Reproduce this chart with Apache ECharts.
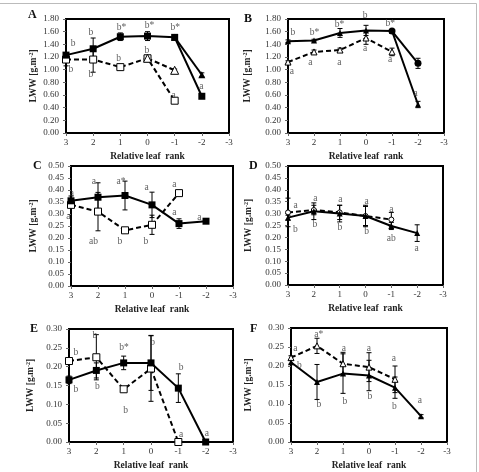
<!DOCTYPE html>
<html style="height: 100%">
<head>
<meta charset="utf-8">
<script src="https://cdn.jsdelivr.net/npm/echarts@6/dist/echarts.min.js"></script>
</head>
<body style="height: 100%; margin: 0; background: #fff">
<div id="container" style="width: 479px; height: 472px;"></div>
<script type="text/javascript">
// leaf ranks (x positions of the points)
var ranks = [3, 2, 1, 0, -1, -2];

// A
var aSolidSq = [1.23, 1.33, 1.52, 1.53, 1.51, 0.58];
var aSolidSqErr = [0.03, 0.17, 0.06, 0.07, 0.02, 0.02];
var aSolidTri = [null, null, null, null, 1.51, 0.92];
var aSolidTriErr = [0, 0, 0, 0, 0.02, 0.03];
var aDashSq = [1.16, 1.16, 1.04, 1.18, 0.51];
var aDashSqErr = [0.1, 0.2, 0.02, 0.04, 0.03];
var aDashTri = [null, null, null, 1.18, 0.99];
var aDashTriErr = [0, 0, 0, 0.02, 0.02];
var aNotes = [[2.74, 1.415, 'b'], [2.08, 1.59, 'b'], [0.96, 1.67, 'b*'], [-0.07, 1.69, 'b*'], [-1.02, 1.66, 'b*'],
  [2.82, 1.0, 'b'], [2.08, 0.93, 'b'], [1.06, 1.17, 'b'], [0.02, 1.30, 'b'], [-0.96, 0.60, 'a'], [-1.98, 0.73, 'a']];

// B
var bSolidTri = [1.45, 1.46, 1.58, 1.62, 1.61, 0.45];
var bSolidTriErr = [0.02, 0.02, 0.07, 0.08, 0.02, 0.05];
var bSolidCirc = [null, null, null, null, 1.61, 1.10];
var bSolidCircErr = [0, 0, 0, 0, 0.02, 0.08];
var bDashTri = [1.12, 1.28, 1.31, 1.50, 1.28];
var bDashTriErr = [0.02, 0.03, 0.03, 0.10, 0.06];
var bNotes = [[2.81, 1.59, 'b'], [1.98, 1.59, 'b*'], [1.02, 1.72, 'b*'], [0.03, 1.85, 'b'], [-0.93, 1.73, 'b*'],
  [2.85, 0.97, 'a'], [2.14, 1.12, 'a'], [1.02, 1.12, 'a'], [0.03, 1.34, 'a'], [-0.93, 1.16, 'a'], [-1.91, 0.62, 'a']];

// C
var cSolidSq = [0.355, 0.37, 0.377, 0.338, 0.26, 0.27];
var cSolidSqErr = [0.02, 0.06, 0.06, 0.053, 0.02, 0.005];
var cDashSq = [0.338, 0.31, 0.232, 0.255, 0.387];
var cDashSqErr = [0.01, 0.08, 0.005, 0.04, 0.01];
var cNotes = [[2.97, 0.386, 'a'], [3.1, 0.29, 'a'], [2.15, 0.4375, 'a'], [1.15, 0.4375, 'a*'], [0.2, 0.41, 'a'],
  [-0.83, 0.424, 'a'], [-0.83, 0.308, 'a'], [-1.75, 0.285, 'a'], [2.17, 0.1875, 'ab'], [1.19, 0.1875, 'b'], [0.23, 0.1875, 'b']];

// D
var dSolidTri = [0.283, 0.31, 0.30, 0.29, 0.248, 0.218];
var dSolidTriErr = [0.01, 0.035, 0.035, 0.04, 0.015, 0.035];
var dDashCirc = [0.305, 0.315, 0.305, 0.29, 0.275];
var dDashCircErr = [0.06, 0.02, 0.03, 0.045, 0.03];
var dNotes = [[2.71, 0.334, 'a'], [1.94, 0.364, 'a'], [0.97, 0.36, 'a'], [-0.04, 0.35, 'a'], [-1.0, 0.318, 'a'],
  [2.71, 0.235, 'b'], [1.96, 0.256, 'b'], [0.99, 0.242, 'b'], [-0.04, 0.223, 'b'], [-1.0, 0.195, 'ab'], [-1.98, 0.153, 'a']];

// E
var eSolidSq = [0.165, 0.19, 0.21, 0.21, 0.143, 0];
var eSolidSqErr = [0.01, 0.02, 0.018, 0.073, 0.038, 0];
var eDashSq = [0.215, 0.225, 0.14, 0.195, 0];
var eDashSqErr = [0.005, 0.06, 0.005, 0.087, 0];
var eNotes = [[2.75, 0.238, 'b'], [2.05, 0.282, 'b'], [0.99, 0.252, 'b*'], [-0.06, 0.264, 'b'], [-1.1, 0.199, 'b'],
  [2.75, 0.139, 'b'], [1.96, 0.147, 'b'], [0.93, 0.084, 'b'], [-1.1, 0.021, 'a'], [-2.04, 0.023, 'a']];

// F
var fSolidTri = [0.21, 0.158, 0.18, 0.175, 0.143, 0.068];
var fSolidTriErr = [0.005, 0.046, 0.052, 0.04, 0.028, 0.004];
var fDashTri = [0.222, 0.253, 0.206, 0.197, 0.165];
var fDashTriErr = [0.005, 0.02, 0.03, 0.038, 0.035];
var fNotes = [[2.83, 0.247, 'a'], [1.93, 0.284, 'a*'], [0.97, 0.247, 'a'], [0.01, 0.247, 'a'], [-0.96, 0.22, 'a'],
  [2.68, 0.201, 'b'], [1.93, 0.1, 'b'], [0.93, 0.106, 'b'], [-0.03, 0.119, 'b'], [-0.98, 0.093, 'b'], [-1.96, 0.11, 'a']];

var serif = '"Liberation Serif", "DejaVu Serif", serif';

function pts(vals) {
  var out = [];
  for (var i = 0; i < vals.length; i++) {
    if (vals[i] !== null) out.push([ranks[i], vals[i]]);
  }
  return out;
}
function errPts(vals, errs) {
  var out = [];
  for (var i = 0; i < vals.length; i++) {
    if (vals[i] !== null && errs[i] > 0) out.push([ranks[i], vals[i], errs[i]]);
  }
  return out;
}
function errItem(params, api) {
  var x = api.value(0), y = api.value(1), e = api.value(2);
  var top = api.coord([x, y + e]), bot = api.coord([x, y - e]);
  var w = 2.5, st = { stroke: '#000', lineWidth: 1 };
  return { type: 'group', children: [
    { type: 'line', shape: { x1: top[0], y1: top[1], x2: bot[0], y2: bot[1] }, style: st },
    { type: 'line', shape: { x1: top[0] - w, y1: top[1], x2: top[0] + w, y2: top[1] }, style: st },
    { type: 'line', shape: { x1: bot[0] - w, y1: bot[1], x2: bot[0] + w, y2: bot[1] }, style: st }
  ] };
}

var grids = [], xAxes = [], yAxes = [], series = [], texts = [];

function panel(letter, box, yMax, yStep, nameGap, lines, notes) {
  var k = grids.length;
  grids.push({ left: box[0], top: box[1], width: box[2], height: box[3], show: true,
    borderColor: '#000', borderWidth: 2, backgroundColor: 'transparent' });
  xAxes.push({ gridIndex: k, type: 'value', min: -3, max: 3, interval: 1, inverse: true,
    splitLine: { show: false },
    axisLine: { onZero: false, lineStyle: { color: '#000', width: 2 } },
    axisTick: { length: 3, lineStyle: { color: '#666' } },
    axisLabel: { fontFamily: serif, fontSize: 9, color: '#333', margin: 5 },
    name: 'Relative leaf  rank', nameLocation: 'middle', nameGap: 19,
    nameTextStyle: { fontFamily: serif, fontSize: 9.5, fontWeight: 'bold', color: '#222' } });
  yAxes.push({ gridIndex: k, type: 'value', min: 0, max: yMax, interval: yStep,
    splitLine: { show: false },
    axisLine: { show: true, onZero: false, lineStyle: { color: '#000', width: 1.5 } },
    axisTick: { show: true, length: 3, lineStyle: { color: '#666' } },
    axisLabel: { fontFamily: serif, fontSize: 9, color: '#333', margin: 7,
      formatter: function (v) { return v.toFixed(2); } },
    name: '{a|LWW [g.m}{s|-2}{a|]}', nameLocation: 'middle', nameGap: nameGap,
    nameTextStyle: { rich: {
      a: { fontFamily: serif, fontSize: 9.5, fontWeight: 'bold', color: '#222' },
      s: { fontFamily: serif, fontSize: 6, fontWeight: 'bold', color: '#222', verticalAlign: 'top', padding: [0, 0, 5, 0] }
    } } });
  lines.forEach(function (ln) {
    series.push({ type: 'custom', xAxisIndex: k, yAxisIndex: k, renderItem: errItem,
      data: errPts(ln.vals, ln.errs), z: 3, silent: true });
  });
  lines.forEach(function (ln) {
    series.push({ type: 'line', xAxisIndex: k, yAxisIndex: k, data: pts(ln.vals), clip: false,
      symbol: ln.symbol, symbolSize: ln.size || 7, z: ln.dashed ? 4 : 5,
      lineStyle: { color: '#000', width: 2, type: ln.dashed ? [5, 3] : 'solid' },
      itemStyle: ln.hollow ? { color: '#fff', borderColor: '#000', borderWidth: 1 } : { color: '#000' } });
  });
  series.push({ type: 'scatter', xAxisIndex: k, yAxisIndex: k, symbolSize: 0, clip: false, z: 6, silent: true,
    data: notes.map(function (n) { return { value: [n[0], n[1]], name: n[2] }; }),
    label: { show: true, position: 'inside', formatter: '{b}', fontFamily: serif, fontSize: 9.5, color: '#333' } });
  texts.push({ type: 'text', left: box[4], top: box[5], style: { text: letter, font: 'bold 12px ' + serif, fill: '#111' } });
}

panel('A', [66, 19, 163, 114, 28, 9], 1.8, 0.2, 27, [
  { vals: aDashSq, errs: aDashSqErr, symbol: 'rect', dashed: true, hollow: true },
  { vals: aDashTri, errs: aDashTriErr, symbol: 'triangle', dashed: true, hollow: true, size: 8 },
  { vals: aSolidSq, errs: aSolidSqErr, symbol: 'rect' },
  { vals: aSolidTri, errs: aSolidTriErr, symbol: 'triangle', size: 7 }
], aNotes);
panel('B', [288, 19, 156, 114, 244, 13], 1.8, 0.2, 35, [
  { vals: bDashTri, errs: bDashTriErr, symbol: 'triangle', dashed: true, hollow: true, size: 6 },
  { vals: bSolidTri, errs: bSolidTriErr, symbol: 'triangle', size: 6 },
  { vals: bSolidCirc, errs: bSolidCircErr, symbol: 'circle', size: 7 }
], bNotes);
panel('C', [71, 166, 162, 120, 33, 160], 0.5, 0.05, 32, [
  { vals: cDashSq, errs: cDashSqErr, symbol: 'rect', dashed: true, hollow: true },
  { vals: cSolidSq, errs: cSolidSqErr, symbol: 'rect' }
], cNotes);
panel('D', [288, 166, 155, 119, 249, 160], 0.5, 0.05, 34, [
  { vals: dDashCirc, errs: dDashCircErr, symbol: 'circle', dashed: true, hollow: true, size: 5 },
  { vals: dSolidTri, errs: dSolidTriErr, symbol: 'triangle', size: 6 }
], dNotes);
panel('E', [69, 329, 164, 114, 30, 323], 0.3, 0.05, 33, [
  { vals: eDashSq, errs: eDashSqErr, symbol: 'rect', dashed: true, hollow: true },
  { vals: eSolidSq, errs: eSolidSqErr, symbol: 'rect' }
], eNotes);
panel('F', [291, 328, 156, 114, 250, 323], 0.3, 0.05, 37, [
  { vals: fDashTri, errs: fDashTriErr, symbol: 'triangle', dashed: true, hollow: true, size: 6 },
  { vals: fSolidTri, errs: fSolidTriErr, symbol: 'triangle', size: 6 }
], fNotes);

// light frame around the figure
texts.push({ type: 'line', shape: { x1: 0, y1: 3.5, x2: 476.5, y2: 3.5 }, style: { stroke: '#bbb', lineWidth: 1 } });
texts.push({ type: 'line', shape: { x1: 476.5, y1: 3.5, x2: 476.5, y2: 472 }, style: { stroke: '#bbb', lineWidth: 1 } });

var myChart = echarts.init(document.getElementById('container'));
var option = {
  backgroundColor: '#fff',
  animation: false,
  grid: grids,
  xAxis: xAxes,
  yAxis: yAxes,
  series: series,
  graphic: texts
};
myChart.setOption(option, true);
</script>
</body>
</html>
